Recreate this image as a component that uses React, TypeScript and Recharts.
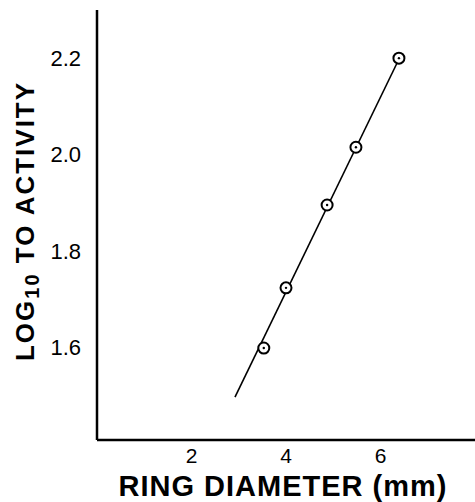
import React from 'react';
import { ScatterChart, Scatter, XAxis, YAxis } from 'recharts';

// ring diameter (mm) vs log10 activity
const diameters = [3.53, 4.0, 4.87, 5.48, 6.39];
const logActivity = [1.598, 1.723, 1.895, 2.015, 2.2];

// fitted line end points
const fitX = [2.92, 6.43];
const fitY = [1.496, 2.206];

const xTicks = [2, 4, 6];
const yTicks = [1.6, 1.8, 2.0, 2.2];

const points = diameters.map((d, i) => ({ x: d, y: logActivity[i] }));
const fitLine = fitX.map((d, i) => ({ x: d, y: fitY[i] }));

const FONT = '"Liberation Sans", Arial, sans-serif';

function RingDot(props: any) {
  const { cx, cy } = props;
  if (cx == null || cy == null) return null;
  return (
    <g>
      <circle cx={cx} cy={cy} r={5.5} fill="#fff" stroke="#000" strokeWidth={2} />
      <circle cx={cx} cy={cy} r={1.2} fill="#000" />
    </g>
  );
}

function XTick(props: any) {
  const { x, y, payload } = props;
  return (
    <text x={x} y={y + 15} textAnchor="middle" fontSize={21} fontFamily={FONT} fill="#000">
      {payload.value}
    </text>
  );
}

function YTick(props: any) {
  const { x, y, payload } = props;
  return (
    <text x={x - 8} y={y + 8} textAnchor="end" fontSize={22} fontFamily={FONT} fill="#000">
      {payload.value.toFixed(1)}
    </text>
  );
}

function XLabel() {
  return (
    <text
      x={283}
      y={496}
      textAnchor="middle"
      fontSize={29}
      fontWeight="bold"
      letterSpacing={1}
      fontFamily={FONT}
      fill="#000"
    >
      RING DIAMETER (mm)
    </text>
  );
}

function YLabel() {
  return (
    <text
      transform="translate(34, 221) rotate(-90)"
      textAnchor="middle"
      fontSize={26}
      fontWeight="bold"
      letterSpacing={2}
      fontFamily={FONT}
      fill="#000"
    >
      LOG
      <tspan fontSize={20} dy={5}>10</tspan>
      <tspan dy={-5}> TO ACTIVITY</tspan>
    </text>
  );
}

export default function App() {
  return (
    <div style={{ position: 'absolute', left: 0, top: 0, background: '#fff' }}>
      <ScatterChart width={475} height={502} margin={{ top: 10, right: 0, bottom: 0, left: 0 }}>
        <XAxis
          type="number"
          dataKey="x"
          domain={[0, 8]}
          ticks={xTicks}
          tickLine={false}
          axisLine={{ stroke: '#000', strokeWidth: 2.5 }}
          tick={<XTick />}
          height={62}
          label={<XLabel />}
          allowDataOverflow
        />
        <YAxis
          type="number"
          dataKey="y"
          domain={[1.407, 2.3]}
          ticks={yTicks}
          tickLine={false}
          axisLine={{ stroke: '#000', strokeWidth: 2.5 }}
          tick={<YTick />}
          width={97}
          label={<YLabel />}
          allowDataOverflow
        />
        <Scatter
          data={fitLine}
          line={{ stroke: '#000', strokeWidth: 1.6 }}
          shape={() => null}
          isAnimationActive={false}
        />
        <Scatter data={points} shape={<RingDot />} isAnimationActive={false} />
      </ScatterChart>
    </div>
  );
}
